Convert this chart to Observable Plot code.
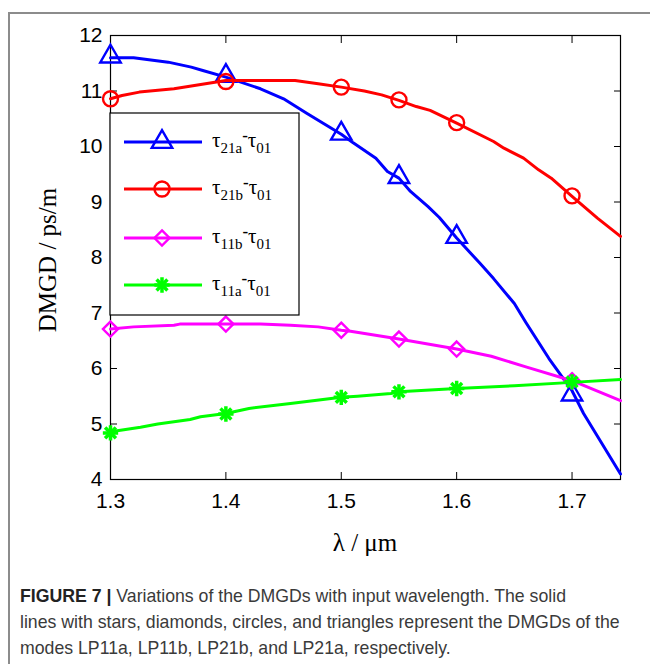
<!DOCTYPE html>
<html><head><meta charset="utf-8">
<script src="https://cdn.jsdelivr.net/npm/d3@7"></script>
<script src="https://cdn.jsdelivr.net/npm/@observablehq/plot@0.6"></script>
<style>
body{margin:0;background:#fff;width:650px;height:664px;overflow:hidden;position:relative;}
#border{position:absolute;left:8px;top:12px;width:700px;height:700px;border-left:2px solid #8c8c8c;border-top:2px solid #8c8c8c;}
#chart{position:absolute;left:0;top:0;}
#caption{position:absolute;left:20px;top:583px;font-family:"Liberation Sans",Arial,sans-serif;font-size:17.7px;line-height:26px;color:#3a3a3a;white-space:nowrap;}
#caption b{color:#222;}
</style></head>
<body>
<div id="border"></div>
<div id="chart"></div>
<div id="caption"><b>FIGURE 7 |</b> Variations of the DMGDs with input wavelength. The solid<br>lines with stars, diamonds, circles, and triangles represent the DMGDs of the<br>modes LP11a, LP11b, LP21b, and LP21a, respectively.</div>
<script>
// ---- data ----
const xTicks = [1.3, 1.4, 1.5, 1.6, 1.7];
const yTicks = [4, 5, 6, 7, 8, 9, 10, 11, 12];
const seriesNames = ["21a", "21b", "11b", "11a"];
const seriesColors = ["#0000ff", "#ff0000", "#ff00ff", "#00ff00"];
const xLabel = "λ / μm";
const yLabel = "DMGD / ps/m";

// tau21a - tau01 (blue, triangles)
const lineX_21a = [1.30, 1.32, 1.35, 1.37, 1.38, 1.40, 1.43, 1.45, 1.47, 1.485, 1.50, 1.51, 1.53, 1.54, 1.55, 1.56, 1.575, 1.585, 1.60, 1.62, 1.632, 1.65, 1.66, 1.68, 1.70, 1.71, 1.742];
const lineY_21a = [11.60, 11.60, 11.52, 11.43, 11.37, 11.25, 11.04, 10.86, 10.60, 10.41, 10.22, 10.07, 9.79, 9.55, 9.43, 9.19, 8.92, 8.72, 8.35, 7.90, 7.62, 7.17, 6.83, 6.18, 5.60, 5.19, 4.10];
// tau21b - tau01 (red, circles)
const lineX_21b = [1.30, 1.31, 1.325, 1.355, 1.40, 1.43, 1.46, 1.48, 1.50, 1.52, 1.535, 1.55, 1.565, 1.577, 1.60, 1.632, 1.641, 1.658, 1.671, 1.682, 1.70, 1.722, 1.742];
const lineY_21b = [10.86, 10.92, 10.98, 11.04, 11.19, 11.19, 11.19, 11.13, 11.07, 11.00, 10.93, 10.83, 10.72, 10.65, 10.42, 10.09, 9.97, 9.79, 9.58, 9.43, 9.10, 8.71, 8.38];
// tau11b - tau01 (magenta, diamonds)
const lineX_11b = [1.30, 1.32, 1.355, 1.36, 1.40, 1.43, 1.456, 1.48, 1.50, 1.508, 1.55, 1.60, 1.63, 1.66, 1.70, 1.742];
const lineY_11b = [6.71, 6.75, 6.78, 6.80, 6.80, 6.80, 6.78, 6.75, 6.69, 6.67, 6.53, 6.35, 6.22, 6.03, 5.78, 5.42];
// tau11a - tau01 (green, stars)
const lineX_11a = [1.30, 1.326, 1.341, 1.369, 1.378, 1.40, 1.42, 1.456, 1.50, 1.514, 1.543, 1.55, 1.60, 1.65, 1.70, 1.742];
const lineY_11a = [4.86, 4.94, 5.00, 5.08, 5.13, 5.19, 5.28, 5.37, 5.48, 5.50, 5.55, 5.58, 5.64, 5.69, 5.75, 5.80];

const markerX = [1.3, 1.4, 1.5, 1.55, 1.6, 1.7];
const markerY_21a = [11.62, 11.27, 10.23, 9.45, 8.37, 5.53];
const markerY_21b = [10.86, 11.17, 11.07, 10.84, 10.43, 9.11];
const markerY_11b = [6.71, 6.80, 6.69, 6.53, 6.35, 5.78];
const markerY_11a = [4.84, 5.18, 5.48, 5.58, 5.64, 5.76];

// ---- build ----
const rows = (xs, ys) => xs.map((x, i) => ({x, y: ys[i]}));
const LW = 3, MW = 2.4;
const series = [
  {line: rows(lineX_21a, lineY_21a), mk: rows(markerX, markerY_21a), color: seriesColors[0], sym: ["triangle"], r: 7.6},
  {line: rows(lineX_21b, lineY_21b), mk: rows(markerX, markerY_21b), color: seriesColors[1], sym: ["circle"], r: 7.5},
  {line: rows(lineX_11b, lineY_11b), mk: rows(markerX, markerY_11b), color: seriesColors[2], sym: ["diamond2"], r: 6.8},
  {line: rows(lineX_11a, lineY_11a), mk: rows(markerX, markerY_11a), color: seriesColors[3], sym: ["plus", "times"], r: 5}
];
const marks = [
  Plot.frame({stroke: "black", strokeWidth: 1.2}),
  Plot.axisX(xTicks, {anchor: "bottom", tickSize: -7, tickPadding: 21, tickFormat: d3.format(".1f"), label: null}),
  Plot.axisX(xTicks, {anchor: "top", tickSize: -7, tickFormat: () => "", label: null}),
  Plot.axisY(yTicks, {anchor: "left", tickSize: -7, tickPadding: 15, tickFormat: d3.format("d"), label: null}),
  Plot.axisY(yTicks, {anchor: "right", tickSize: -7, tickFormat: () => "", label: null})
];
for (const s of series) {
  marks.push(Plot.line(s.line, {x: "x", y: "y", stroke: s.color, strokeWidth: LW}));
  for (const sym of s.sym) {
    marks.push(Plot.dot(s.mk, {x: "x", y: "y", symbol: sym, r: s.r, stroke: s.color, fill: "none",
      strokeWidth: sym === "plus" || sym === "times" ? 3.5 : MW}));
  }
}
const plot = Plot.plot({
  width: 650, height: 560,
  marginLeft: 110, marginTop: 35, marginRight: 30, marginBottom: 81,
  style: {background: "transparent", fontFamily: "'Liberation Sans', Arial, sans-serif", fontSize: "21px", color: "black", overflow: "visible"},
  x: {domain: [1.3, 1.742]},
  y: {domain: [4, 12]},
  marks
});
document.getElementById("chart").appendChild(plot);

// ---- axis labels & legend ----
const svg = d3.select(plot);
const serif = "'Liberation Serif', 'Times New Roman', serif";
svg.append("text").attr("x", 365).attr("y", 551).attr("text-anchor", "middle")
  .attr("font-family", serif).attr("font-size", 25).attr("fill", "black").text(xLabel);
svg.append("text").attr("transform", "translate(56,260) rotate(-90)").attr("text-anchor", "middle")
  .attr("font-family", serif).attr("font-size", 25).attr("fill", "black").text(yLabel);

const lg = svg.append("g").attr("text-anchor", "start");
lg.append("rect").attr("x", 110).attr("y", 113).attr("width", 189).attr("height", 202)
  .attr("fill", "white").attr("stroke", "black").attr("stroke-width", 1.2);
const rowY = [142, 189, 238, 285];
const symMap = {triangle: d3.symbolTriangle, circle: d3.symbolCircle, diamond2: d3.symbolDiamond2, plus: d3.symbolPlus, times: d3.symbolTimes};
series.forEach((s, i) => {
  const y = rowY[i];
  lg.append("line").attr("x1", 124).attr("x2", 202).attr("y1", y).attr("y2", y)
    .attr("stroke", s.color).attr("stroke-width", LW);
  for (const sym of s.sym) {
    lg.append("path").attr("transform", `translate(162,${y})`)
      .attr("d", d3.symbol(symMap[sym], Math.PI * s.r * s.r)())
      .attr("fill", "none").attr("stroke", s.color)
      .attr("stroke-width", sym === "plus" || sym === "times" ? 3.5 : MW);
  }
  const t = lg.append("text").attr("x", 212).attr("y", y + 5).attr("font-family", serif)
    .attr("text-anchor", "start").attr("font-size", 21).attr("fill", "black");
  t.append("tspan").text("τ");
  t.append("tspan").attr("font-size", 15).attr("dy", 6).text(seriesNames[i]);
  t.append("tspan").attr("font-size", 17).attr("font-weight", "bold").attr("dy", -12).text("-");
  t.append("tspan").attr("dy", 6).text("τ");
  t.append("tspan").attr("font-size", 15).attr("dy", 6).text("01");
});
</script>
</body></html>
